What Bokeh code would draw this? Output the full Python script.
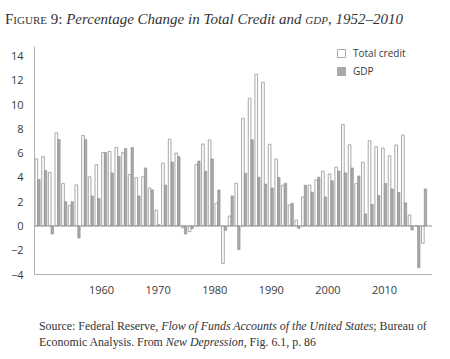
from bokeh.plotting import figure
from bokeh.models import (Range1d, LinearAxis, FixedTicker, Span, Legend, LegendItem,
                          ColumnDataSource, Div)
from bokeh.transform import dodge
from bokeh.layouts import column
from bokeh.embed import file_html
from bokeh.resources import INLINE

years = list(range(1952, 2011))
total_credit = [5.52, 5.71, 4.40, 7.66, 3.49, 1.68, 3.38, 7.45, 4.04, 5.05,
                6.04, 6.13, 6.46, 6.04, 4.23, 3.98, 4.04, 3.13, 1.30, 5.17,
                7.15, 6.00, -0.15, -0.47, 5.04, 6.75, 7.08, 1.88, -3.08, 0.81,
                3.52, 8.87, 10.52, 12.50, 11.84, 6.73, 5.50, 3.35, 1.73, 0.47,
                2.38, 3.36, 3.79, 4.51, 4.28, 4.85, 8.35, 6.68, 3.48, 5.25,
                7.02, 6.52, 6.42, 5.78, 6.67, 7.48, 0.90, 0.00, -1.43]
gdp = [3.82, 4.56, -0.66, 7.12, 2.00, 2.00, -0.99, 7.12, 2.47, 2.25,
       6.04, 4.37, 5.71, 6.37, 6.46, 2.47, 4.78, 2.97, 0.10, 3.37,
       5.26, 5.70, -0.67, -0.21, 5.35, 4.50, 5.52, 2.96, -0.36, 2.47,
       -1.95, 4.34, 7.09, 4.01, 3.45, 3.13, 4.00, 3.52, 1.87, -0.20,
       3.36, 2.78, 4.01, 2.39, 3.72, 4.52, 4.37, 4.78, 4.12, 0.99,
       1.76, 2.50, 3.49, 3.05, 2.75, 1.90, -0.34, -3.45, 3.05]
y_ticks = [-4, -2, 0, 2, 4, 6, 8, 10, 12, 14]
x_tick_labels = [1960, 1970, 1980, 1990, 2000, 2010]

src = ColumnDataSource(data=dict(year=years, credit=total_credit, gdp=gdp))

AX = "#b0b0b0"
TXT = "#3a3a3a"
SANS = "Open Sans"

p = figure(frame_width=398, frame_height=228, output_backend="svg", toolbar_location=None,
           x_range=Range1d(1951.52, 2011.25), y_range=Range1d(-4, 14.78),
           x_axis_location=None, min_border_left=34, min_border_right=0,
           min_border_top=10, min_border_bottom=36)
p.outline_line_color = None
p.xgrid.visible = False
p.ygrid.visible = False
p.background_fill_color = "white"
p.border_fill_color = "white"

# label axis (the reference's year labels follow their own spacing)
p.extra_x_ranges = {"lab": Range1d(1948.16, 2018.48)}
xa = LinearAxis(x_range_name="lab", ticker=FixedTicker(ticks=x_tick_labels))
xa.axis_line_color = AX
xa.major_tick_line_color = None
xa.minor_tick_line_color = None
xa.major_label_standoff = 5
xa.major_label_text_font = SANS
xa.major_label_text_font_size = "11px"
xa.major_label_text_color = TXT
p.add_layout(xa, "below")

ya = p.yaxis[0]
ya.ticker = FixedTicker(ticks=y_ticks)
ya.major_label_overrides = {t: (("\u2212" + str(-t)) if t < 0 else str(t)) for t in y_ticks}
ya.axis_line_color = AX
ya.major_tick_line_color = None
ya.minor_tick_line_color = None
ya.major_label_standoff = 5
ya.major_label_text_font = SANS
ya.major_label_text_font_size = "11px"
ya.major_label_text_color = TXT

p.add_layout(Span(location=0, dimension="width", line_color="#9a9a9a", line_width=1))

r1 = p.vbar(x=dodge("year", -0.2, range=p.x_range), top="credit", bottom=0, width=0.4,
            source=src, fill_color="white", line_color="#a8a8a8", line_width=1)
r2 = p.vbar(x=dodge("year", 0.19, range=p.x_range), top="gdp", bottom=0, width=0.36,
            source=src, fill_color="#a9a9a9", line_color="#8c8c8c", line_width=0.6)

legend = Legend(items=[LegendItem(label="Total credit", renderers=[r1]),
                       LegendItem(label="GDP", renderers=[r2])],
                location=(302, 196), padding=0, margin=0, spacing=4,
                glyph_width=10, glyph_height=10, label_height=14, label_standoff=7,
                label_text_font=SANS, label_text_font_size="10px",
                label_text_color=TXT, border_line_color=None,
                background_fill_alpha=0)
p.add_layout(legend, "center")

title = Div(width=434, height=26, text=(
    '<div style="font-family:\'Liberation Serif\',serif;font-size:15px;color:#333;'
    'white-space:nowrap;margin:0;padding-top:4px">'
    '<span style="font-variant:small-caps">Figure 9:</span> '
    '<i>Percentage Change in Total Credit and <span style="font-variant:small-caps">gdp</span>, 1952\u20132010</i>'
    '</div>'))

caption = Div(width=434, height=44, text=(
    '<div style="font-family:\'Liberation Serif\',serif;font-size:11.9px;line-height:16px;color:#333;'
    'white-space:nowrap;margin:0;padding-left:34px;padding-top:3px">'
    'Source: Federal Reserve, <i>Flow of Funds Accounts of the United States</i>; Bureau of<br>'
    'Economic Analysis. From <i>New Depression</i>, Fig. 6.1, p. 86'
    '</div>'))

layout = column(title, p, caption, spacing=0)

open("out.html", "w").write(file_html(layout, INLINE))
